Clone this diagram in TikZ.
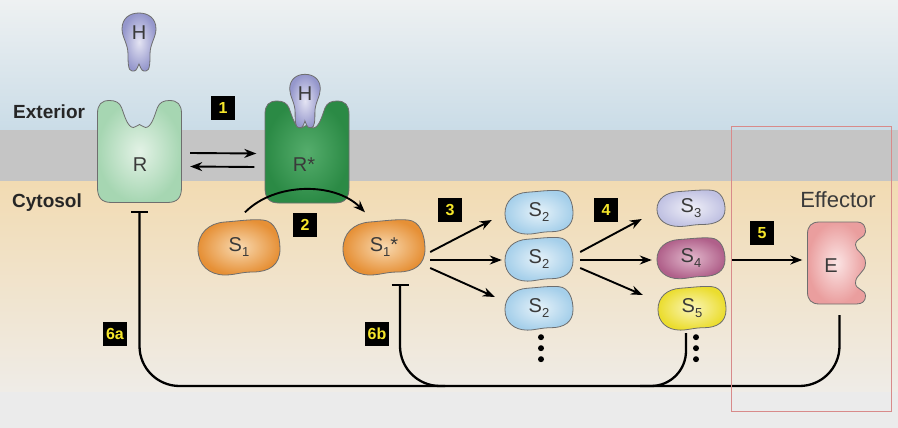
\documentclass[tikz,border=0pt]{standalone}
\usepackage{fontspec}
\setmainfont{Liberation Sans}
\usetikzlibrary{arrows.meta}

\definecolor{extop}{HTML}{EEF1F2}
\definecolor{exbot}{HTML}{CADCE7}
\definecolor{membrane}{HTML}{C5C5C5}
\definecolor{cytop}{HTML}{F2DBB2}
\definecolor{cybot}{HTML}{EFECE7}
\definecolor{lowgray}{HTML}{EBEBEB}
\definecolor{edgegray}{HTML}{6E6E6E}
\definecolor{txtgray}{HTML}{3A3A3A}
\definecolor{numyellow}{HTML}{F5E62B}
\definecolor{framered}{HTML}{D88A8A}
\definecolor{rlightout}{HTML}{A6D6B2}
\definecolor{rlightin}{HTML}{E3F2E6}
\definecolor{rdarkout}{HTML}{2B8A45}
\definecolor{rdarkin}{HTML}{55AD6C}
\definecolor{hout}{HTML}{9597CC}
\definecolor{hin}{HTML}{E4E4F3}
\definecolor{orgout}{HTML}{E69036}
\definecolor{orgin}{HTML}{F8D9B0}
\definecolor{bluout}{HTML}{A5CFEA}
\definecolor{bluin}{HTML}{E6F2F9}
\definecolor{lavout}{HTML}{C0C1E2}
\definecolor{lavin}{HTML}{F0F0F8}
\definecolor{magout}{HTML}{B0608A}
\definecolor{magin}{HTML}{E2B8CC}
\definecolor{yelout}{HTML}{EBDD2E}
\definecolor{yelin}{HTML}{FAF5B8}
\definecolor{pinkout}{HTML}{EA9E9E}
\definecolor{pinkin}{HTML}{FBE4E4}

\newcommand{\Ssub}[1]{S\raisebox{-5pt}{\fontsize{13}{13}\selectfont #1}}
% receptor with a notch on top
\newcommand{\recep}[2][]{\draw[blobline, shift={(#2)}, #1] (-42,36) -- (-42,-38) .. controls (-42,-47) and (-38,-51) .. (-30,-51) .. controls (-24,-51) and (-20,-49) .. (-18,-44) .. controls (-15,-36) and (-12,-24) .. (-6,-24) .. controls (-3,-24) and (-2,-27) .. (0,-27) .. controls (2,-27) and (3,-24) .. (6,-24) .. controls (12,-24) and (15,-36) .. (18,-44) .. controls (20,-49) and (24,-51) .. (30,-51) .. controls (38,-51) and (42,-47) .. (42,-38) -- (42,36) .. controls (42,46) and (38,51) .. (28,51) -- (-28,51) .. controls (-38,51) and (-42,46) .. (-42,36) -- cycle;}
% hormone
\newcommand{\hormone}[2][]{\draw[blobline, shift={(#2)}, #1] (0,22) .. controls (-3,29) .. (-7,29) .. controls (-11,29) and (-11,20) .. (-11,12) .. controls (-11,2) and (-17,-5) .. (-17,-13) .. controls (-17,-24) and (-9,-29) .. (0,-29) .. controls (9,-29) and (17,-24) .. (17,-13) .. controls (17,-5) and (11,2) .. (11,12) .. controls (11,20) and (11,29) .. (7,29) .. controls (3,29) .. cycle;}
% signalling protein
\newcommand{\bean}[2][]{\draw[blobline, shift={(#2)}, #1] (-41,2) .. controls (-41,-14) and (-30,-24) .. (-14,-25) .. controls (0,-26) and (12,-28) .. (24,-27) .. controls (36,-26) and (41,-12) .. (41,2) .. controls (41,18) and (30,25) .. (14,25) .. controls (2,25) and (-4,28) .. (-14,28) .. controls (-30,28) and (-41,18) .. cycle;}
% effector
\newcommand{\effshape}[2][]{\draw[blobline, shift={(#2)}, #1] (-17,-41) -- (20,-41) .. controls (27,-41) and (29,-37) .. (29,-31) .. controls (29,-25) and (19,-25) .. (19,-18) .. controls (19,-11) and (29,-10) .. (29,0) .. controls (29,10) and (19,11) .. (19,20) .. controls (19,27) and (29,26) .. (29,33) .. controls (29,38) and (26,41) .. (20,41) -- (-17,41) .. controls (-25,41) and (-29,37) .. (-29,29) -- (-29,-29) .. controls (-29,-37) and (-25,-41) .. cycle;}

\tikzset{
  blobline/.style={draw=edgegray, line width=0.8pt},
  body/.style={inner sep=0pt},
  lab/.style={text=txtgray, inner sep=0pt, font=\fontsize{20}{20}\selectfont},
  side/.style={text=black!85, inner sep=0pt, anchor=west, font=\bfseries\fontsize{19}{19}\selectfont},
  numbox/.style={fill=black, text=numyellow, font=\bfseries\fontsize{16}{16}\selectfont, minimum size=24pt, inner sep=1pt},
  arr/.style={-{Stealth[length=12pt,width=9pt]}, line width=1.9pt},
  fb/.style={line width=2.3pt},
  inh/.style={fb, -{Bar[width=17pt]}},
}

\begin{document}
\begin{tikzpicture}[x=1pt, y=-1pt]
\useasboundingbox (0,0) rectangle (898,428);
% background
\fill[top color=extop, bottom color=exbot] (0,0) rectangle (898,130);
\fill[membrane] (0,130) rectangle (898,181);
\fill[top color=cytop, bottom color=cybot] (0,181) rectangle (898,392);
\fill[lowgray] (0,392) rectangle (898,428);

\node[side] (ext) at (13,112) {Exterior};
\node[side] (cyt) at (12,203) {Cytosol};

% receptors and hormone
\hormone[inner color=hin, outer color=hout]{139,42}
\node[lab] (h) at (139,33) {H};
\recep[inner color=rlightin, outer color=rlightout]{139.5,151.5}
\node[body, minimum width=85pt, minimum height=102pt] (r) at (139.5,151.5) {};
\node[lab] (rt) at (140,165) {R};
\recep[inner color=rdarkin, outer color=rdarkout]{307,152}
\node[body, minimum width=85pt, minimum height=100pt] (rs) at (307,152) {};
\node[lab] (rst) at (304,165) {R*};
\hormone[inner color=hin, outer color=hout, xscale=.9, yscale=.92]{305,101}
\node[lab] (hs) at (305,94) {H};

\draw[arr] ([xshift=8pt,yshift=-1.5pt]r.east) -- ([xshift=-8pt,yshift=-1.5pt]rs.west);
\draw[arr] ([xshift=-10pt,yshift=-15pt]rs.west) -- ([xshift=8pt,yshift=-15pt]r.east);

% signalling cascade
\bean[inner color=orgin, outer color=orgout]{239,247}
\node[body, lab, minimum width=82pt, minimum height=57pt] (s1) at (239,247) {\Ssub{1}};
\bean[inner color=orgin, outer color=orgout]{384,247}
\node[body, lab, minimum width=82pt, minimum height=57pt] (s1s) at (384,247) {\Ssub{1}*};
\draw[arr] ([xshift=6pt,yshift=6pt]s1.north) .. controls (275,182) and (335,182) .. ([xshift=-19pt,yshift=6pt]s1s.north);

\foreach \nm/\y in {s2a/212, s2b/259, s2c/308}{
  \bean[inner color=bluin, outer color=bluout, xscale=.83, yscale=.79]{539,\y}
  \node[body, lab, minimum width=68pt, minimum height=44pt] (\nm) at (539,\y) {\Ssub{2}};
}
\bean[inner color=lavin, outer color=lavout, xscale=.83, yscale=.66]{691,208}
\node[body, lab, minimum width=68pt, minimum height=36pt] (s3) at (691,208) {\Ssub{3}};
\bean[inner color=magin, outer color=magout, xscale=.83, yscale=.74]{691,258}
\node[body, lab, minimum width=68pt, minimum height=42pt] (s4) at (691,258) {\Ssub{4}};
\bean[inner color=yelin, outer color=yelout, xscale=.83, yscale=.79]{692,308}
\node[body, lab, minimum width=68pt, minimum height=44pt] (s5) at (692,308) {\Ssub{5}};

\foreach \d in {7,18,29}{
  \fill[black] ([xshift=2pt,yshift=-\d pt]s2c.south) circle (3pt);
  \fill[black] ([xshift=4pt,yshift=-\d pt]s5.south) circle (3pt);
}

\draw[arr] ([xshift=5pt,yshift=-5pt]s1s.east) -- ([xshift=-13pt,yshift=-8pt]s2a.west);
\draw[arr] ([xshift=5pt,yshift=-13pt]s1s.east) -- ([xshift=-3pt,yshift=-1pt]s2b.west);
\draw[arr] ([xshift=5pt,yshift=-21pt]s1s.east) -- ([xshift=-10pt,yshift=11pt]s2c.west);

\draw[arr] ([xshift=7pt,yshift=7pt]s2b.east) -- ([xshift=-15pt,yshift=-11pt]s3.west);
\draw[arr] ([xshift=7pt,yshift=-1pt]s2b.east) -- ([xshift=-5pt,yshift=-2pt]s4.west);
\draw[arr] ([xshift=7pt,yshift=-9pt]s2b.east) -- ([xshift=-15pt,yshift=13pt]s5.west);

% effector
\effshape[inner color=pinkin, outer color=pinkout]{836.5,263}
\node[body, minimum width=58pt, minimum height=82pt] (e) at (836.5,263) {};
\node[lab] (et) at (831,266) {E};
\node[lab, font=\fontsize{22}{22}\selectfont] (eff) at (838,200) {Effector};
\draw[arr] ([xshift=7pt,yshift=-2pt]s4.east) -- ([xshift=-5pt,yshift=3pt]e.west);

% feedback
\coordinate (base) at (0,386);
\coordinate (j1) at (445,386);
\coordinate (j2) at (640,386);
\draw[inh, rounded corners=40pt] ([xshift=3pt,yshift=-11pt]e.south) |- (base -| r) -- ([yshift=-8pt]r.south);
\draw[inh, rounded corners=40pt] (j1) -| ([xshift=16pt,yshift=-8pt]s1s.south);
\draw[fb, rounded corners=35pt] ([xshift=-6pt,yshift=-3pt]s5.south) |- (j2);

% step numbers
\node[numbox] (n1) at (223,108) {1};
\node[numbox] (n2) at (305,225) {2};
\node[numbox] (n3) at (450,210) {3};
\node[numbox] (n4) at (606,210) {4};
\node[numbox] (n5) at (762,233) {5};
\node[numbox] (n6a) at (115,334) {6a};
\node[numbox] (n6b) at (377,334) {6b};

\draw[framered, line width=1pt] (731,127) rectangle (891,411);
\end{tikzpicture}
\end{document}
